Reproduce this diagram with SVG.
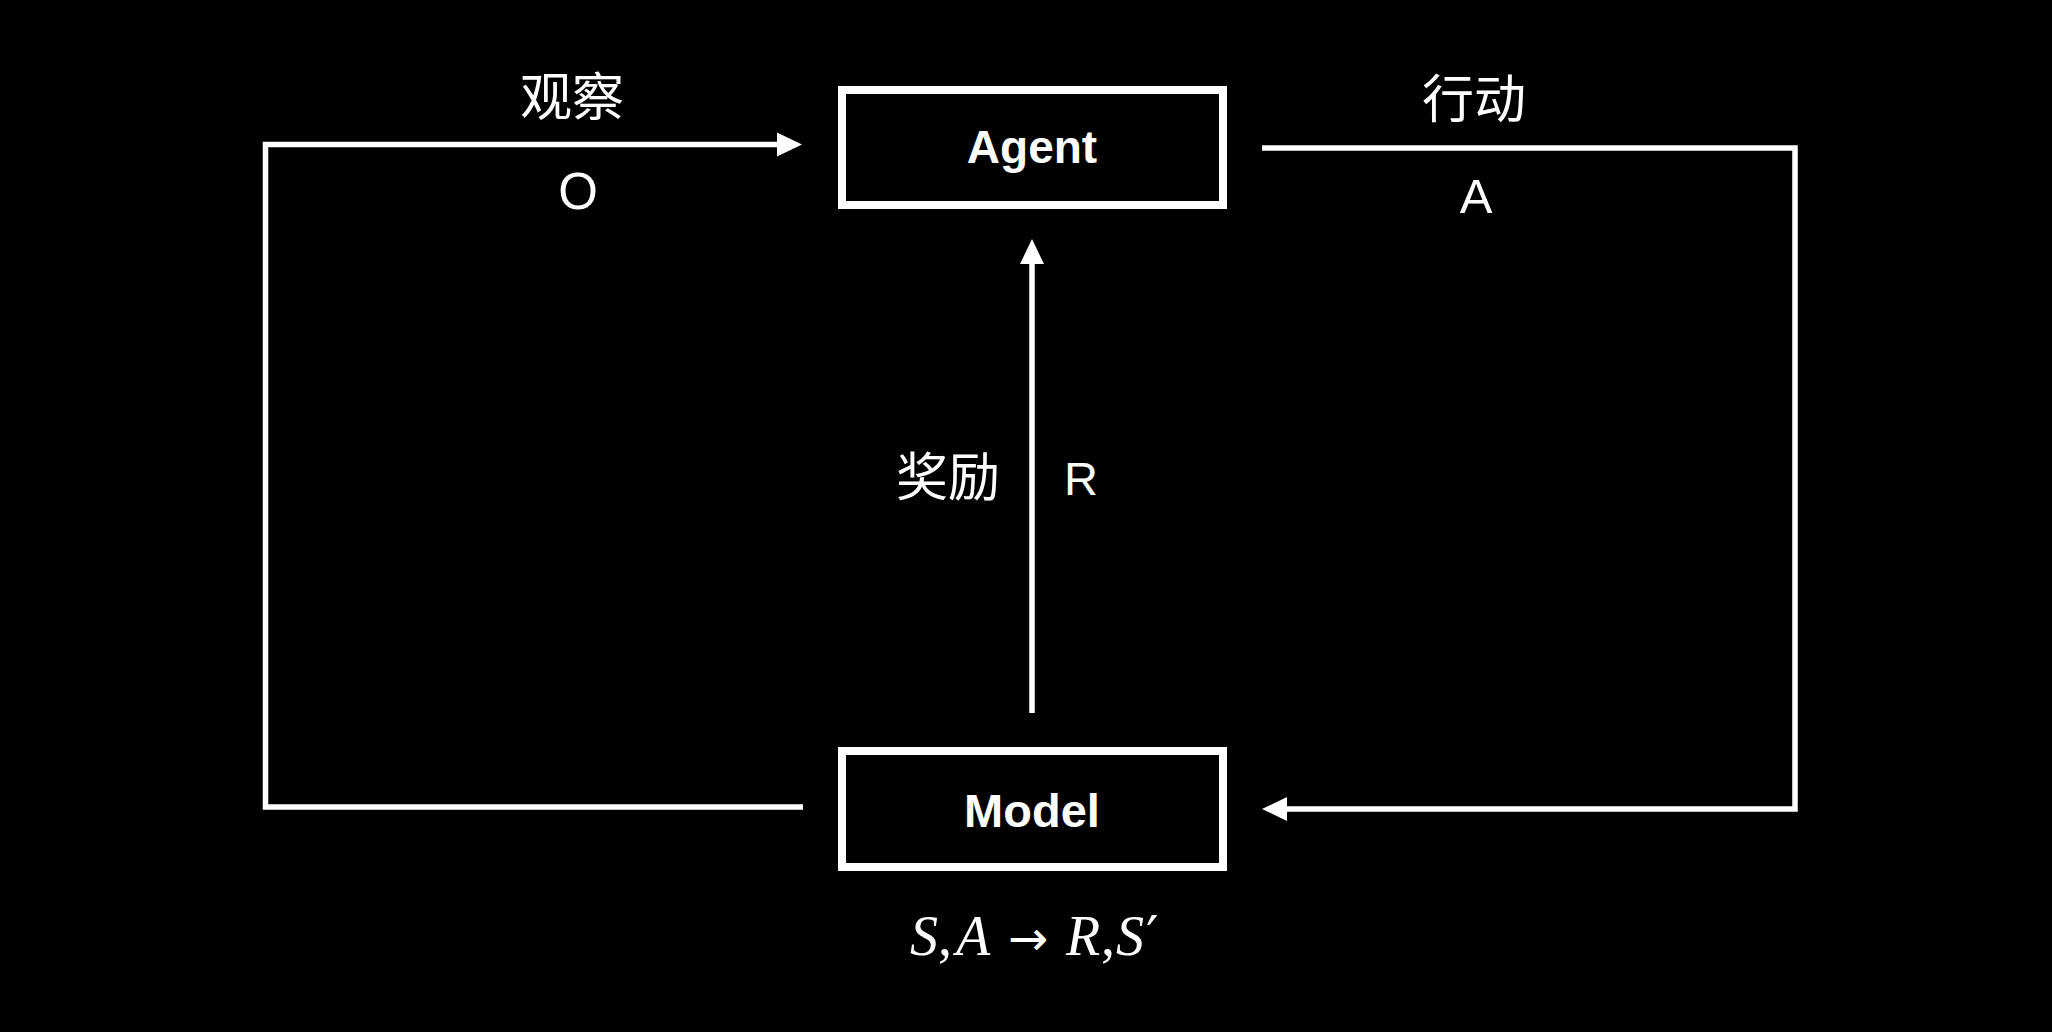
<svg xmlns="http://www.w3.org/2000/svg" width="2052" height="1032" viewBox="0 0 2052 1032">
<style>
.bg{fill:#000}
.box{fill:#000;stroke:#fff;stroke-width:8}
.conn{fill:none;stroke:#fff;stroke-width:5.5;stroke-linejoin:miter}
.cjk{fill:#fff;font-family:"Noto Sans CJK SC",sans-serif;font-size:52px;text-anchor:middle}
.lat{fill:#fff;font-family:"Liberation Sans",Arial,sans-serif;text-anchor:middle}
.node{fill:#fff;font-family:"Liberation Sans",Arial,sans-serif;font-weight:bold;text-anchor:middle}
.math{fill:#fff;font-family:"Liberation Serif","Times New Roman",serif;font-size:56px}
.mi{font-style:italic}
.sym{font-family:"DejaVu Sans",sans-serif}
</style>
<defs>
<marker id="ah" markerUnits="userSpaceOnUse" markerWidth="25" markerHeight="24" refX="0" refY="12" orient="auto" overflow="visible">
<path d="M0,0 L25,12 L0,24 z" fill="#fff"/>
</marker>
</defs>
<rect class="bg" x="0" y="0" width="2052" height="1032"/>
<g id="connectors">
<polyline class="conn" points="803,807 265.5,807 265.5,144.5 777,144.5" marker-end="url(#ah)"/>
<polyline class="conn" points="1262,148 1795,148 1795,809 1287,809" marker-end="url(#ah)"/>
<line class="conn" x1="1032" y1="713" x2="1032" y2="264" marker-end="url(#ah)"/>
</g>
<g id="agent">
<rect class="box" x="842" y="90" width="381" height="115"/>
<text class="node" x="1032" y="163" font-size="46">Agent</text>
</g>
<g id="model">
<rect class="box" x="842" y="751" width="381" height="116"/>
<text class="node" x="1032" y="827" font-size="47">Model</text>
</g>
<g id="labels">
<text class="cjk" x="572" y="116">观察</text>
<text class="lat" x="578" y="209" font-size="51">O</text>
<text class="cjk" x="1474" y="118">行动</text>
<text class="lat" x="1476" y="213" font-size="49">A</text>
<text class="cjk" x="948" y="496">奖励</text>
<text class="lat" x="1081" y="495" font-size="47">R</text>
</g>
<g id="formula">
<text class="math" y="955"><tspan class="mi" x="910">S</tspan><tspan x="938">,</tspan><tspan class="mi" x="956">A</tspan><tspan class="sym" x="1008" font-size="48">→</tspan><tspan class="mi" x="1066">R</tspan><tspan x="1101">,</tspan><tspan class="mi" x="1116">S</tspan><tspan class="sym" x="1146" font-size="56">′</tspan></text>
</g>
</svg>
